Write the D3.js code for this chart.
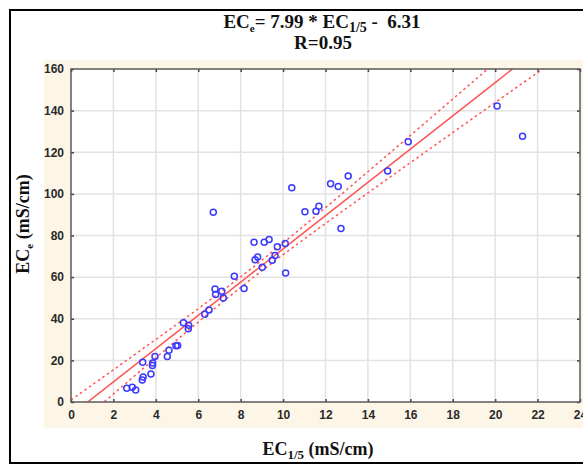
<!DOCTYPE html>
<html><head><meta charset="utf-8">
<script src="https://cdn.jsdelivr.net/npm/d3@7"></script>
<style>body{margin:0;background:#fff;} svg{display:block;}</style>
</head><body>
<svg id="chart" width="583" height="465"></svg>
<script>
// EC1/5 (x) and ECe (y) samples
const ec15 = [2.63,2.89,3.05,3.36,3.40,3.77,3.38,3.84,3.85,3.96,4.54,4.62,4.95,5.03,5.30,5.55,5.53,6.31,6.51,
  6.71,10.41,12.24,12.60,13.07,11.03,11.55,11.69,12.73,8.63,9.11,9.34,10.10,9.73,9.62,9.49,8.80,8.68,9.02,10.12,
  7.70,8.16,6.79,6.82,7.11,7.18,14.93,15.90,20.09,21.29];
const ece = [6.6,7.1,5.8,10.6,12.0,13.5,19.1,17.5,18.7,21.9,21.9,24.9,27.0,27.1,38.1,36.9,35.2,42.2,44.2,
  91.2,103.0,104.9,103.5,108.6,91.4,91.7,94.1,83.4,76.8,76.8,78.1,76.1,74.6,70.4,68.1,69.7,68.4,64.7,62.0,
  60.4,54.5,54.3,51.6,53.2,50.0,111.0,125.0,142.2,127.7];
// regression
const slope = 7.99, intercept = -6.31;
// confidence band half-width (ECe units)
const bandX    = [0,1,2,4,6,8,10,12,14,16,18,20,22,24];
const bandHalf = [7.3,6.55,5.8,4.4,3.2,2.55,2.8,3.8,5.1,6.55,8.05,9.6,11.2,12.8];
const xTicks = [0,2,4,6,8,10,12,14,16,18,20,22,24];
const yTicks = [0,20,40,60,80,100,120,140,160];

const svg = d3.select("#chart");
const L = 71, R = 580, T = 69, B = 402;
const x = d3.scaleLinear().domain([0,24]).range([L,R]);
const y = d3.scaleLinear().domain([0,160]).range([B,T]);

// beige panel
svg.append("rect").attr("x",44).attr("y",60).attr("width",583-44).attr("height",428-60).attr("fill","#fdf6e6");
// outer frame lines
svg.append("line").attr("x1",10).attr("x2",583).attr("y1",10).attr("y2",10).attr("stroke","#000").attr("stroke-width",2);
svg.append("line").attr("x1",10).attr("x2",10).attr("y1",9).attr("y2",464).attr("stroke","#000").attr("stroke-width",2);
svg.append("line").attr("x1",9).attr("x2",583).attr("y1",463).attr("y2",463).attr("stroke","#000").attr("stroke-width",2);

// plot background
svg.append("rect").attr("x",L).attr("y",T).attr("width",R-L).attr("height",B-T).attr("fill","#fff");
svg.append("defs").append("clipPath").attr("id","clip").append("rect")
  .attr("x",L).attr("y",T).attr("width",R-L).attr("height",B-T);

// grid
const g = svg.append("g");
g.selectAll(".gx").data(xTicks.slice(1,-1)).join("line")
  .attr("x1",d=>x(d)).attr("x2",d=>x(d)).attr("y1",T).attr("y2",B)
  .attr("stroke","#e2e2e2").attr("stroke-width",1.5);
g.selectAll(".gy").data(yTicks.slice(1,-1)).join("line")
  .attr("y1",d=>y(d)).attr("y2",d=>y(d)).attr("x1",L).attr("x2",R)
  .attr("stroke","#e2e2e2").attr("stroke-width",1.5);

// axes (ticks inward)
const fontTick = "'Liberation Sans', Arial, sans-serif";
const axB = svg.append("g").attr("transform",`translate(0,${B})`)
  .call(d3.axisBottom(x).tickValues(xTicks).tickSizeInner(-3).tickSizeOuter(0).tickPadding(8).tickFormat(d3.format("d")));
const axL = svg.append("g").attr("transform",`translate(${L},0)`)
  .call(d3.axisLeft(y).tickValues(yTicks).tickSizeInner(-3).tickSizeOuter(0).tickPadding(6).tickFormat(d3.format("d")));
const axT = svg.append("g").attr("transform",`translate(0,${T})`)
  .call(d3.axisTop(x).tickValues(xTicks).tickSizeInner(-3).tickSizeOuter(0).tickFormat(""));
const axR = svg.append("g").attr("transform",`translate(${R},0)`)
  .call(d3.axisRight(y).tickValues(yTicks).tickSizeInner(-3).tickSizeOuter(0).tickFormat(""));
[axB,axL,axT,axR].forEach(a=>{
  a.select(".domain").remove();
  a.selectAll(".tick line").attr("stroke","#444").attr("stroke-width",1.5);
  a.selectAll("text").attr("font-family",fontTick).attr("font-weight","bold").attr("font-size",12).attr("fill","#2a2a2a");
});
axL.selectAll("text").attr("dx","-1");

// fit lines
const clipG = svg.append("g").attr("clip-path","url(#clip)");
const red = "#ff5555";
clipG.append("path")
  .attr("d", d3.line()(xTicks.map(v=>[x(v), y(slope*v+intercept)])))
  .attr("fill","none").attr("stroke",red).attr("stroke-width",1.5);
[1,-1].forEach(s=>{
  clipG.append("path")
    .attr("d", d3.line().curve(d3.curveMonotoneX)(bandX.map((v,i)=>[x(v), y(slope*v+intercept + s*bandHalf[i])])))
    .attr("fill","none").attr("stroke",red).attr("stroke-width",1.5).attr("stroke-dasharray","2.5,3");
});

// points
svg.append("g").selectAll("circle").data(ec15).join("circle")
  .attr("cx",(d)=>x(d)).attr("cy",(d,i)=>y(ece[i])).attr("r",3)
  .attr("fill","none").attr("stroke","#3a3aff").attr("stroke-width",1.5);

// frame
svg.append("rect").attr("x",L).attr("y",T).attr("width",R-L).attr("height",B-T)
  .attr("fill","none").attr("stroke","#5a5a5a").attr("stroke-width",1.5);

// titles
const serif = "'Liberation Serif', 'Times New Roman', serif";
const t1 = svg.append("text").attr("x",322).attr("y",28).attr("text-anchor","middle")
  .attr("font-family",serif).attr("font-weight","bold").attr("font-size",19).attr("fill","#111");
t1.append("tspan").text("EC");
t1.append("tspan").attr("font-size",11).attr("dy",4).text("e");
t1.append("tspan").attr("dy",-4).text("= 7.99 * EC");
t1.append("tspan").attr("font-size",14).attr("dy",4).text("1/5");
t1.append("tspan").attr("dy",-4).style("white-space","pre").text(" -  6.31");
svg.append("text").attr("x",323).attr("y",49).attr("text-anchor","middle")
  .attr("font-family",serif).attr("font-weight","bold").attr("font-size",19).attr("fill","#111").text("R=0.95");

const xt = svg.append("text").attr("x",318).attr("y",455).attr("text-anchor","middle")
  .attr("font-family",serif).attr("font-weight","bold").attr("font-size",18).attr("fill","#111");
xt.append("tspan").text("EC");
xt.append("tspan").attr("font-size",13).attr("dy",4).text("1/5");
xt.append("tspan").attr("dy",-4).text(" (mS/cm)");

const yt = svg.append("text").attr("transform","translate(29,224) rotate(-90)").attr("text-anchor","middle")
  .attr("font-family",serif).attr("font-weight","bold").attr("font-size",18).attr("fill","#111");
yt.append("tspan").text("EC");
yt.append("tspan").attr("font-size",11).attr("dy",4).text("e");
yt.append("tspan").attr("dy",-4).text(" (mS/cm)");
</script>
</body></html>
